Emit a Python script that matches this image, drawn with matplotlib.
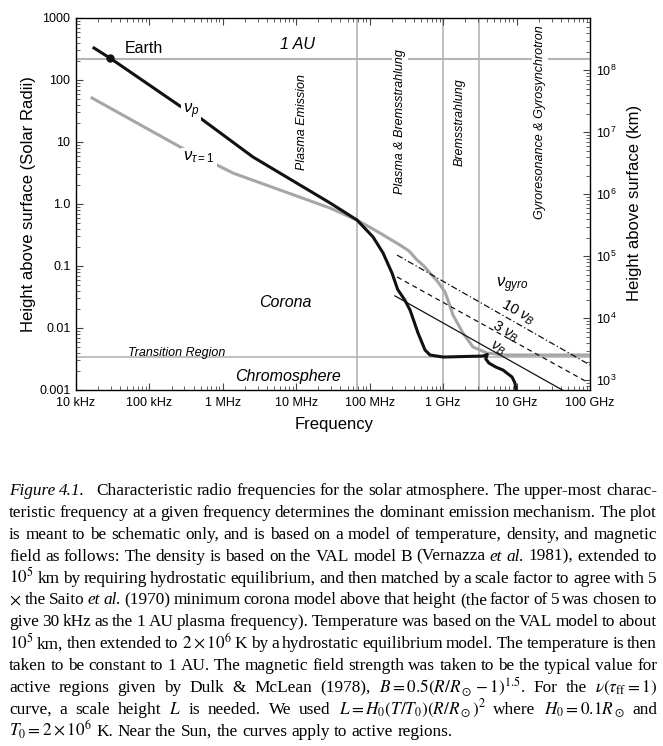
import matplotlib
matplotlib.use("Agg")
import matplotlib.pyplot as plt
from matplotlib.ticker import LogLocator, NullFormatter

plt.rcParams['font.family'] = ['Liberation Sans', 'DejaVu Sans']
plt.rcParams['mathtext.fontset'] = 'custom'
plt.rcParams['mathtext.rm'] = 'Liberation Sans'
plt.rcParams['mathtext.it'] = 'Liberation Sans:italic'
plt.rcParams['mathtext.bf'] = 'Liberation Sans:bold'

# ---- data (frequency in Hz, height in solar radii) ----
rsun_km = 6.96e5

# plasma frequency curve
np_freq = [1.76e4, 2.9e4, 2.6e5, 4.9e5, 2.57e6, 2.88e7, 6.7e7, 1.11e8, 1.52e8,
           2.01e8, 2.4e8, 3.0e8, 3.54e8, 4.55e8, 5.66e8, 6.62e8, 1.0e9, 3.49e9,
           4.0e9, 3.8e9, 4.2e9, 5.2e9, 6.53e9, 8.67e9, 9.5e9, 9.8e9]
np_height = [328, 226, 38.1, 24.4, 5.73, 1.04, 0.552, 0.294, 0.162,
             0.0771, 0.042, 0.0283, 0.0195, 0.0083, 0.00442, 0.00367, 0.0034, 0.00353,
             0.00375, 0.00318, 0.00272, 0.00235, 0.0021, 0.00162, 0.0013, 0.001]

# free-free tau = 1 curve
tau_freq = [1.65e4, 2.78e5, 7.35e5, 1.37e6, 2.88e7, 6.7e7, 1.38e8, 1.89e8, 2.58e8,
            3.43e8, 4.41e8, 5.48e8, 6.62e8, 8.51e8, 1.06e9, 1.2e9, 1.36e9, 1.86e9,
            2.55e9, 3.95e9, 6.53e9, 1e11]
tau_height = [51.3, 8.0, 4.58, 3.16, 0.861, 0.552, 0.34, 0.272, 0.218,
              0.175, 0.125, 0.1, 0.077, 0.0552, 0.0381, 0.0253, 0.0162, 0.0083,
              0.00494, 0.00395, 0.00367, 0.00367]

# gyro harmonics (end points)
gyro1_freq = [2.2e8, 4.2e10]
gyro1_height = [0.033, 0.001]
gyro3_freq = [2.36e8, 9.1e10]
gyro3_height = [0.0665, 0.00135]
gyro10_freq = [2.36e8, 1e11]
gyro10_height = [0.15, 0.00253]

earth_freq, earth_height = 2.9e4, 226
au_height = 222
transition_height = 0.00345
region_bounds = [6.7e7, 1.0e9, 3.1e9]

xtick_vals = [1e4, 1e5, 1e6, 1e7, 1e8, 1e9, 1e10, 1e11]
xtick_labels = ["10 kHz", "100 kHz", "1 MHz", "10 MHz", "100 MHz", "1 GHz", "10 GHz", "100 GHz"]
ytick_vals = [1e-3, 1e-2, 1e-1, 1, 10, 100, 1000]
ytick_labels = ["0.001", "0.01", "0.1", "1.0", "10", "100", "1000"]
kmtick_vals = [1e3, 1e4, 1e5, 1e6, 1e7, 1e8]
kmtick_labels = [r"$10^3$", r"$10^4$", r"$10^5$", r"$10^6$", r"$10^7$", r"$10^8$"]

caption_lines = [
    "*Figure* *4.1.* | Characteristic radio frequencies for the solar atmosphere. The upper-most charac-",
    "teristic frequency at a given frequency determines the dominant emission mechanism. The plot",
    "is meant to be schematic only, and is based on a model of temperature, density, and magnetic",
    "field as follows: The density is based on the VAL model B (Vernazza *et* *al.* 1981), extended to",
    "$10^5$ km by requiring hydrostatic equilibrium, and then matched by a scale factor to agree with 5",
    r"$\times$ the Saito *et* *al.* (1970) minimum corona model above that height (the factor of 5 was chosen to",
    "give 30 kHz as the 1 AU plasma frequency). Temperature was based on the VAL model to about",
    r"$10^5$ km, then extended to $2\times10^6$ K by a hydrostatic equilibrium model. The temperature is then",
    "taken to be constant to 1 AU. The magnetic field strength was taken to be the typical value for",
    r"active regions given by Dulk & McLean (1978), $B=0.5(R/R_\odot-1)^{1.5}$. For the $\nu(\tau_\mathrm{ff}=1)$",
    r"curve, a scale height $L$ is needed. We used $L=H_0(T/T_0)(R/R_\odot)^2$ where $H_0=0.1R_\odot$ and",
    r"$T_0=2\times10^6$ K. Near the Sun, the curves apply to active regions.",
]

W, H = 663, 746
fig = plt.figure(figsize=(W / 100, H / 100), dpi=100)


def fx(px):
    return px / W


def fy(py):
    return 1 - py / H


ax = fig.add_axes([fx(76), fy(390), (590 - 76) / W, (390 - 18) / H])
ax.set_xscale('log')
ax.set_yscale('log')
ax.set_xlim(1e4, 1e11)
ax.set_ylim(1e-3, 1e3)

line_gray = '#b4b4b4'
curve_gray = '#a6a6a6'

# region boundaries
for fb in region_bounds:
    ax.axvline(fb, color=line_gray, lw=1.2, zorder=1)
ax.axhline(au_height, color=line_gray, lw=1.5, zorder=1)
ax.axhline(transition_height, color=line_gray, lw=1.2, zorder=1)

# curves
ax.plot(tau_freq, tau_height, color=curve_gray, lw=2.2, zorder=2)
ax.plot(np_freq, np_height, color='#111111', lw=2.2, zorder=2)
ax.plot(gyro1_freq, gyro1_height, color='#111111', lw=0.9, zorder=2)
ax.plot(gyro3_freq, gyro3_height, color='#111111', lw=0.9, ls=(0, (4, 3)), zorder=2)
ax.plot(gyro10_freq, gyro10_height, color='#111111', lw=0.9, ls=(0, (5, 2, 1, 2)), zorder=2)
ax.plot([earth_freq], [earth_height], 'o', color='#111111', ms=5, zorder=3)

white = dict(facecolor='white', edgecolor='none', pad=1.5)

ax.text(4.64e4, 328, "Earth", fontsize=11.5, ha='left', va='center')
ax.text(1.05e7, 367, "1 AU", fontsize=11.5, style='italic', ha='center', va='center')
ax.text(7.0e6, 0.0262, "Corona", fontsize=11.5, style='italic', ha='center', va='center')
ax.text(7.7e6, 0.00168, "Chromosphere", fontsize=11.5, style='italic', ha='center', va='center')
ax.text(5.1e4, 0.0036, "Transition Region", fontsize=9, style='italic', ha='left', va='baseline')

for xf, lab in [(1.2e7, "Plasma Emission"), (2.58e8, "Plasma & Bremsstrahlung"),
                (1.7e9, "Bremsstrahlung"), (2.08e10, "Gyroresonance & Gyrosynchrotron")]:
    ax.text(xf, 21, lab, fontsize=9, style='italic', rotation=90, ha='center', va='center',
            bbox=white, zorder=4)

ax.text(3.68e5, 31.6, r"$\nu_p$", fontsize=12, ha='center', va='center', bbox=white, zorder=4)
ax.text(4.73e5, 5.6, r"$\nu_{\tau=1}$", fontsize=12, ha='center', va='center', bbox=white, zorder=4)
ax.text(8.7e9, 0.0494, r"$\nu_{gyro}$", fontsize=12, ha='center', va='center')
ax.text(1.045e10, 0.0175, r"10 $\nu_B$", fontsize=10.5, rotation=-29, rotation_mode='anchor',
        ha='center', va='center')
ax.text(6.95e9, 0.0086, r"3 $\nu_B$", fontsize=10.5, rotation=-29, rotation_mode='anchor',
        ha='center', va='center')
ax.text(5.4e9, 0.00475, r"$\nu_B$", fontsize=10.5, rotation=-29, rotation_mode='anchor',
        ha='center', va='center')

# ticks, left/bottom/top
ax.set_xticks(xtick_vals)
ax.set_xticklabels(xtick_labels)
ax.set_yticks(ytick_vals)
ax.set_yticklabels(ytick_labels)
ax.xaxis.set_minor_locator(LogLocator(base=10, subs=range(2, 10), numticks=20))
ax.yaxis.set_minor_locator(LogLocator(base=10, subs=range(2, 10), numticks=20))
ax.xaxis.set_minor_formatter(NullFormatter())
ax.yaxis.set_minor_formatter(NullFormatter())

for sp in ax.spines.values():
    sp.set_color('#444444')
    sp.set_linewidth(1.0)

# right axis in km
ax2 = ax.twinx()
ax2.set_yscale('log')
ax2.set_ylim(1e-3 * rsun_km, 1e3 * rsun_km)
ax2.set_yticks(kmtick_vals)
ax2.set_yticklabels(kmtick_labels)
ax2.yaxis.set_minor_locator(LogLocator(base=10, subs=range(2, 10), numticks=20))
ax2.yaxis.set_minor_formatter(NullFormatter())

ax.tick_params(axis='x', which='both', direction='in', top=True, bottom=True, labelsize=9, pad=5,
               color='#444444')
ax.tick_params(axis='y', which='both', direction='in', left=True, right=False, labelsize=9, pad=4,
               color='#444444')
ax2.tick_params(axis='y', which='both', direction='in', left=False, right=True, labelsize=9, pad=4,
                color='#444444')
for a in (ax, ax2):
    a.tick_params(which='major', length=5, width=0.8)
    a.tick_params(which='minor', length=3, width=0.6)

fig.text(fx(29), fy(204), "Height above surface (Solar Radii)", fontsize=12, rotation=90,
         ha='center', va='center')
fig.text(fx(634), fy(203), "Height above surface (km)", fontsize=12, rotation=90,
         ha='center', va='center')
fig.text(fx(334), fy(424), "Frequency", fontsize=12, ha='center', va='center')

# caption, justified line by line
cap_size = 12.4
cap_left, cap_right = 9, 657
cap_base, cap_step = 495, 21.9
natural_gap = 0.25 * cap_size * 100 / 72
renderer = fig.canvas.get_renderer()
for i, line in enumerate(caption_lines):
    yb = fy(cap_base + i * cap_step)
    items = []
    weights = []
    for w in line.split(' '):
        if w == '|':
            weights[-1] += 2
            continue
        style = 'normal'
        if len(w) > 2 and w.startswith('*') and w.endswith('*'):
            style = 'italic'
            w = w[1:-1]
        t = fig.text(0, yb, w, fontsize=cap_size, family=['Liberation Serif', 'DejaVu Serif'],
                     style=style, math_fontfamily='stix', va='baseline', ha='left')
        items.append(t)
        weights.append(1)
    widths = [t.get_window_extent(renderer=renderer).width for t in items]
    if i == len(caption_lines) - 1:
        unit = natural_gap
    else:
        unit = (cap_right - cap_left - sum(widths)) / sum(weights[:-1])
    xpos = cap_left
    for t, wd, wt in zip(items, widths, weights):
        t.set_x(fx(xpos))
        xpos += wd + unit * wt

fig.savefig("out.png", dpi=100)
